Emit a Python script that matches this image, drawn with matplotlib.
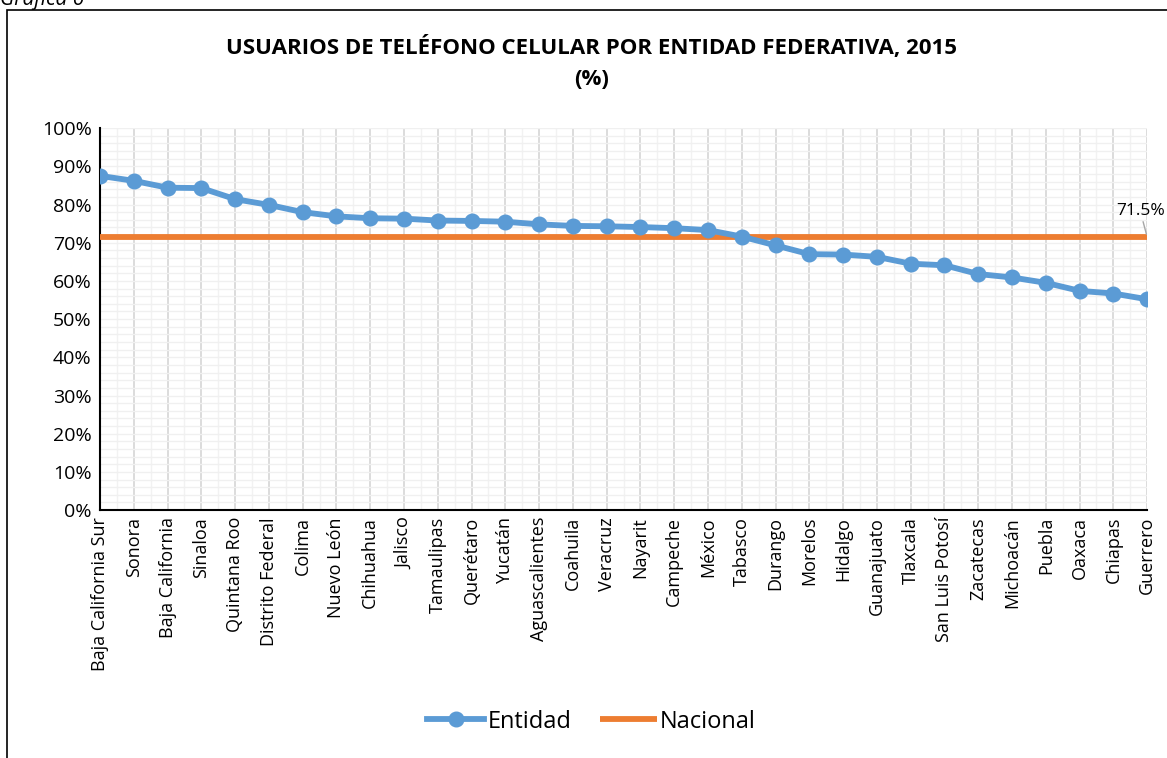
import matplotlib.pyplot as plt
from matplotlib.patches import Rectangle
from matplotlib.ticker import MultipleLocator, PercentFormatter

# Data
entidades = [
    "Baja California Sur", "Sonora", "Baja California", "Sinaloa", "Quintana Roo",
    "Distrito Federal", "Colima", "Nuevo León", "Chihuahua", "Jalisco",
    "Tamaulipas", "Querétaro", "Yucatán", "Aguascalientes", "Coahuila",
    "Veracruz", "Nayarit", "Campeche", "México", "Tabasco", "Durango",
    "Morelos", "Hidalgo", "Guanajuato", "Tlaxcala", "San Luis Potosí",
    "Zacatecas", "Michoacán", "Puebla", "Oaxaca", "Chiapas", "Guerrero",
]
entidad_pct = [
    87.5, 86.2, 84.4, 84.3, 81.4, 79.9, 78.0, 76.9, 76.4, 76.3,
    75.8, 75.7, 75.5, 74.8, 74.4, 74.3, 74.1, 73.8, 73.3, 71.6, 69.3,
    67.0, 66.9, 66.3, 64.5, 64.1, 61.8, 60.9, 59.5, 57.4, 56.7, 55.2,
]
nacional_pct = 71.5

plt.rcParams["font.family"] = ["Open Sans", "DejaVu Sans"]

fig = plt.figure(figsize=(11.67, 7.58), dpi=100)
ax = fig.add_axes([0.0857, 0.327, 0.8973, 0.504])

x = list(range(len(entidades)))
ax.plot(x, [nacional_pct] * len(x), color="#ED7D31", lw=4.2, label="Nacional", zorder=3,
        solid_capstyle="butt")
ax.plot(x, entidad_pct, color="#5B9BD5", lw=4.2, marker="o", markersize=10.5,
        label="Entidad", zorder=4)

ax.set_xlim(0, len(x) - 1)
ax.set_ylim(0, 100)
ax.set_xticks(x)
ax.set_xticklabels(entidades, rotation=90, fontsize=13)
ax.xaxis.set_minor_locator(MultipleLocator(0.5))
ax.yaxis.set_major_locator(MultipleLocator(10))
ax.yaxis.set_minor_locator(MultipleLocator(2))
ax.yaxis.set_major_formatter(PercentFormatter(decimals=0))
ax.tick_params(axis="y", labelsize=14, length=0, pad=6)
ax.tick_params(axis="x", length=0, pad=5)
ax.tick_params(which="minor", length=0)

ax.grid(which="major", axis="x", color="#d9d9d9", lw=1.3)
ax.grid(which="minor", axis="x", color="#f2f2f2", lw=1)
ax.grid(which="both", axis="y", color="#f0f0f0", lw=1)
ax.set_axisbelow(True)
for s in ["top", "right"]:
    ax.spines[s].set_visible(False)
for s in ["left", "bottom"]:
    ax.spines[s].set_color("black")
    ax.spines[s].set_linewidth(1.5)

ax.annotate(f"{nacional_pct}%", xy=(len(x) - 1, nacional_pct), xytext=(-5, 13),
            textcoords="offset points", fontsize=12.5, ha="center", va="bottom",
            arrowprops=dict(arrowstyle="-", color="#a6a6a6", lw=1, shrinkA=0, shrinkB=2),
            annotation_clip=False)

fig.text(0.507, 0.937, "USUARIOS DE TELÉFONO CELULAR POR ENTIDAD FEDERATIVA, 2015",
         ha="center", va="center", fontsize=16, fontweight="bold")
fig.text(0.507, 0.895, "(%)", ha="center", va="center", fontsize=16, fontweight="bold")
fig.text(0.0, 1.0, "Gráfica 6", ha="left", va="center", fontsize=15, style="italic")

fig.patches.append(Rectangle((7 / 1167, -0.1), 1.2, 1 - 10 / 758 + 0.1,
                             transform=fig.transFigure, fill=False,
                             edgecolor="black", lw=1.2))

handles, labels = ax.get_legend_handles_labels()
fig.legend(handles[::-1], labels[::-1], loc="center", bbox_to_anchor=(0.507, 0.048),
           ncol=2, frameon=False, fontsize=17, handlelength=2.4, columnspacing=1.2,
           handletextpad=0.15)

fig.savefig("out.png", dpi=100)
